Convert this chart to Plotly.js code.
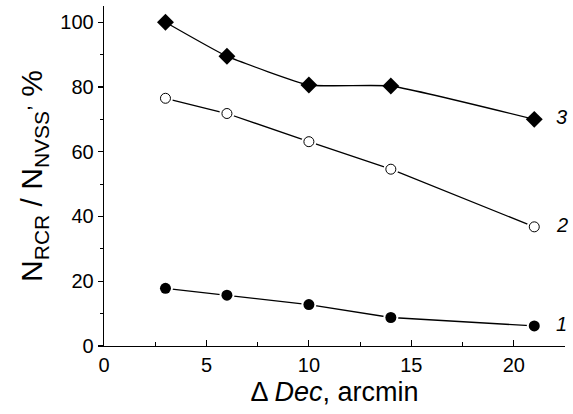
<!DOCTYPE html>
<html><head><meta charset="utf-8">
<script src="https://cdn.plot.ly/plotly-3.0.1.min.js"></script>
<style>html,body{margin:0;padding:0;background:#fff}</style>
</head><body>
<div id="chart" style="width:573px;height:414px"></div>
<script>
const dec = [3, 6, 10, 14, 21];
const series1 = [17.8, 15.7, 12.8, 8.8, 6.2];
const series2 = [76.5, 71.8, 63.1, 54.6, 36.8];
const series3 = [100, 89.5, 80.6, 80.3, 70.0];
const curveLabels = ['1', '2', '3'];

const FONT = 'Arial, "Liberation Sans", sans-serif';
const traces = [
  {x: dec, y: series1, mode: 'lines', line: {color: '#000', width: 1.3}},
  {x: dec, y: series2, mode: 'lines', line: {color: '#000', width: 1.3}},
  {x: dec, y: series3, mode: 'lines', line: {color: '#000', width: 1.3, shape: 'spline', smoothing: 0.4}},
  {x: dec, y: series1, mode: 'markers', marker: {symbol: 'circle', size: 15, color: '#fff'}},
  {x: dec, y: series2, mode: 'markers', marker: {symbol: 'circle', size: 15, color: '#fff'}},
  {x: dec, y: series1, mode: 'markers', marker: {symbol: 'circle', size: 11, color: '#000'}},
  {x: dec, y: series2, mode: 'markers', marker: {symbol: 'circle', size: 10, color: '#fff', line: {color: '#000', width: 1}}},
  {x: dec, y: series3, mode: 'markers', marker: {symbol: 'diamond', size: 13, color: '#000'}}
];

const lastIdx = dec.length - 1;
const annYs = [series1[lastIdx], series2[lastIdx], series3[lastIdx]];
const annotations = curveLabels.map((t, i) => ({
  x: dec[lastIdx], y: annYs[i], text: '<i>' + t + '</i>', showarrow: false,
  xanchor: 'left', xshift: 20, yshift: 2, font: {family: FONT, size: 20, color: '#000'}
}));

const layout = {
  width: 573, height: 414,
  margin: {l: 104, r: 8, t: 6, b: 68},
  paper_bgcolor: '#fff', plot_bgcolor: '#fff',
  showlegend: false,
  font: {family: FONT, color: '#000'},
  xaxis: {
    range: [0, 22.5], showgrid: false, zeroline: false,
    showline: true, linecolor: '#000', linewidth: 1.3,
    ticks: 'inside', ticklen: 6, tickwidth: 1.2, tickcolor: '#000',
    tickvals: [0, 5, 10, 15, 20], ticktext: ['0', '5', '10', '15', '20'],
    minor: {dtick: 2.5, tick0: 0, ticks: 'inside', ticklen: 4, tickcolor: '#000', tickwidth: 1},
    tickfont: {family: FONT, size: 20}, ticklabelstandoff: 1,
    title: {text: 'Δ <i>Dec</i>, arcmin', font: {family: FONT, size: 27}, standoff: 6}
  },
  yaxis: {
    range: [0, 105], showgrid: false, zeroline: false,
    showline: true, linecolor: '#000', linewidth: 1.3,
    ticks: 'outside', ticklen: 5, tickwidth: 1.2, tickcolor: '#000',
    tickvals: [0, 20, 40, 60, 80, 100],
    minor: {dtick: 10, tick0: 0, ticks: 'outside', ticklen: 3, tickcolor: '#000', tickwidth: 1},
    tickfont: {family: FONT, size: 20},
    title: {text: 'N<sub>RCR</sub> / N<sub>NVSS</sub><sup>,</sup> %', font: {family: FONT, size: 30}, standoff: 8}
  },
  annotations: annotations
};
Plotly.newPlot('chart', traces, layout, {displayModeBar: false, staticPlot: true});
</script>
</body></html>
